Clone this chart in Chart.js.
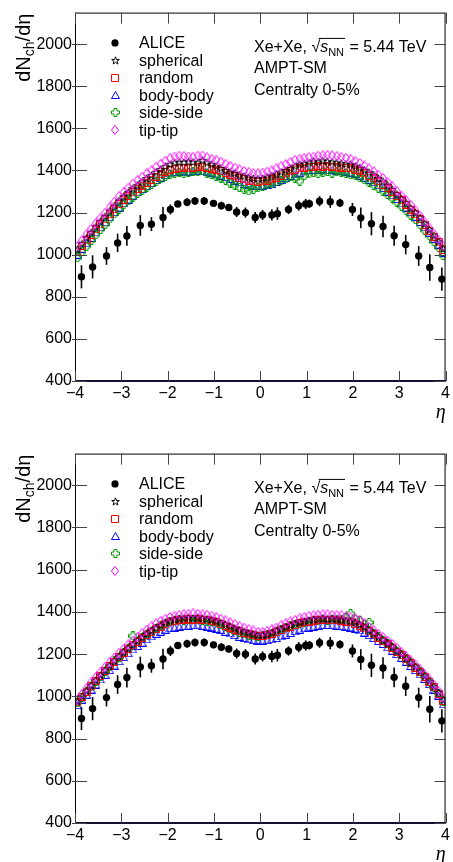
<!DOCTYPE html>
<html>
<head>
<meta charset="utf-8">
<script src="https://cdn.jsdelivr.net/npm/chart.js@4.4.1/dist/chart.umd.min.js"></script>
<style>
body { margin: 0; background: #fff; }
#wrap { position: relative; width: 453px; height: 862px; }
canvas { position: absolute; left: 0; }
</style>
</head>
<body>
<div id="wrap">
  <canvas id="topPanel" width="453" height="441" style="top:0"></canvas>
  <canvas id="bottomPanel" width="453" height="421" style="top:441px"></canvas>
</div>
<script>
// ---- data ----
const etaModel = [
  -3.95,-3.85,-3.75,-3.65,-3.55,-3.45,-3.35,-3.25,-3.15,-3.05,
  -2.95,-2.85,-2.75,-2.65,-2.55,-2.45,-2.35,-2.25,-2.15,-2.05,
  -1.95,-1.85,-1.75,-1.65,-1.55,-1.45,-1.35,-1.25,-1.15,-1.05,
  -0.95,-0.85,-0.75,-0.65,-0.55,-0.45,-0.35,-0.25,-0.15,-0.05,
  0.05,0.15,0.25,0.35,0.45,0.55,0.65,0.75,0.85,0.95,
  1.05,1.15,1.25,1.35,1.45,1.55,1.65,1.75,1.85,1.95,
  2.05,2.15,2.25,2.35,2.45,2.55,2.65,2.75,2.85,2.95,
  3.05,3.15,3.25,3.35,3.45,3.55,3.65,3.75,3.85,3.95
];

// ALICE points (same in both panels)
const etaAlice = [-3.86,-3.62,-3.32,-3.08,-2.88,-2.59,-2.35,-2.10,-1.94,-1.78,-1.58,-1.41,-1.21,-1.01,-0.84,-0.68,-0.51,-0.32,-0.11,0.05,0.25,0.37,0.61,0.83,0.98,1.06,1.28,1.51,1.72,1.99,2.17,2.40,2.65,2.89,3.14,3.42,3.66,3.92];
const aliceVal = [895,942,994,1056,1089,1139,1145,1177,1215,1241,1249,1255,1255,1244,1233,1224,1203,1200,1177,1189,1189,1195,1215,1233,1241,1242,1254,1252,1246,1215,1175,1147,1134,1090,1048,994,939,884];
const aliceErr = [55,55,42,44,47,49,33,49,24,13,19,19,19,16,19,16,24,24,26,24,27,30,22,24,24,20,24,29,20,31,49,55,51,47,46,47,63,55];

// top panel
const topTip = [
  1040,1068,1098,1124,1150,1175,1200,1226,1252,1278,
  1298,1318,1338,1355,1370,1386,1400,1418,1432,1446,
  1458,1466,1470,1468,1466,1465,1470,1471,1462,1456,
  1450,1442,1432,1422,1414,1406,1398,1392,1388,1386,
  1390,1394,1400,1410,1420,1430,1440,1450,1456,1460,
  1463,1466,1470,1472,1474,1472,1468,1464,1460,1454,
  1446,1436,1424,1410,1396,1380,1364,1345,1325,1302,
  1280,1258,1236,1210,1185,1156,1128,1100,1070,1042
];
const topSph = [
  1025,1052,1080,1106,1132,1158,1182,1208,1232,1256,
  1276,1296,1314,1330,1346,1362,1376,1392,1405,1418,
  1428,1436,1440,1438,1442,1440,1436,1448,1436,1428,
  1420,1410,1400,1392,1386,1378,1372,1366,1362,1360,
  1362,1368,1374,1382,1392,1400,1410,1420,1428,1432,
  1436,1444,1440,1446,1442,1440,1436,1434,1430,1428,
  1420,1412,1402,1390,1378,1362,1348,1330,1310,1288,
  1266,1246,1222,1200,1176,1148,1120,1092,1062,1030
];
const topRnd = [
  1015,1042,1068,1094,1120,1144,1168,1192,1216,1240,
  1260,1278,1296,1312,1328,1342,1356,1370,1382,1394,
  1402,1408,1412,1414,1410,1414,1416,1418,1414,1408,
  1402,1396,1388,1380,1372,1364,1358,1352,1348,1346,
  1348,1352,1358,1366,1376,1386,1396,1404,1410,1414,
  1416,1418,1420,1418,1420,1418,1416,1414,1412,1410,
  1404,1396,1386,1374,1362,1348,1332,1316,1298,1278,
  1258,1238,1214,1192,1168,1142,1114,1086,1058,1022
];
const topBody = [
  1000,1028,1054,1080,1106,1130,1154,1178,1202,1224,
  1244,1262,1280,1296,1312,1326,1340,1354,1366,1378,
  1386,1392,1394,1396,1394,1396,1398,1396,1392,1388,
  1382,1376,1368,1360,1352,1344,1336,1330,1326,1326,
  1328,1332,1338,1346,1356,1364,1374,1382,1390,1396,
  1400,1402,1402,1404,1400,1402,1398,1396,1394,1390,
  1384,1376,1366,1356,1344,1330,1316,1300,1282,1264,
  1244,1224,1202,1180,1156,1130,1104,1076,1048,1010
];
const topSide = [
  985,1014,1040,1068,1094,1120,1144,1170,1194,1216,
  1238,1256,1274,1292,1306,1320,1334,1348,1360,1372,
  1382,1388,1392,1386,1392,1396,1394,1398,1388,1382,
  1372,1364,1354,1340,1330,1320,1310,1304,1310,1318,
  1326,1334,1340,1346,1352,1360,1372,1362,1350,1376,
  1384,1390,1386,1392,1396,1388,1394,1392,1386,1380,
  1374,1366,1356,1344,1330,1316,1302,1286,1268,1250,
  1230,1210,1188,1166,1142,1116,1090,1062,1034,996
];

// bottom panel
const botTip = [
  985,1012,1040,1066,1092,1116,1140,1162,1184,1206,
  1226,1246,1264,1282,1300,1316,1332,1346,1358,1368,
  1376,1382,1386,1389,1391,1393,1391,1388,1386,1382,
  1376,1368,1360,1350,1342,1334,1325,1318,1312,1306,
  1305,1310,1318,1326,1336,1346,1355,1362,1370,1376,
  1380,1384,1386,1388,1388,1386,1385,1384,1380,1376,
  1370,1362,1348,1330,1312,1296,1280,1264,1248,1230,
  1210,1190,1170,1150,1128,1104,1080,1054,1026,992
];
const botSph = [
  975,1000,1026,1052,1076,1100,1124,1146,1168,1190,
  1210,1228,1246,1264,1280,1296,1310,1324,1336,1348,
  1356,1362,1366,1370,1372,1370,1372,1368,1366,1362,
  1356,1348,1340,1332,1322,1314,1306,1300,1294,1290,
  1290,1294,1300,1310,1318,1328,1336,1344,1350,1356,
  1360,1364,1366,1368,1366,1368,1364,1362,1360,1356,
  1350,1340,1328,1314,1298,1282,1266,1250,1234,1216,
  1198,1180,1160,1140,1118,1096,1072,1046,1018,984
];
const botRnd = [
  972,998,1022,1048,1072,1096,1120,1142,1164,1186,
  1206,1224,1242,1258,1276,1290,1304,1318,1330,1342,
  1350,1356,1362,1364,1366,1364,1366,1362,1360,1356,
  1350,1342,1334,1326,1316,1308,1300,1294,1290,1286,
  1286,1290,1296,1304,1314,1322,1330,1338,1346,1350,
  1354,1358,1360,1362,1362,1360,1360,1358,1354,1350,
  1344,1334,1322,1308,1294,1278,1262,1246,1230,1212,
  1194,1176,1156,1136,1114,1092,1068,1042,1012,978
];
const botBody = [
  958,984,1008,1032,1056,1080,1102,1124,1146,1166,
  1186,1204,1222,1238,1254,1270,1284,1296,1306,1316,
  1322,1326,1330,1332,1334,1336,1336,1334,1330,1326,
  1320,1314,1306,1298,1290,1282,1276,1270,1266,1264,
  1264,1266,1270,1276,1284,1292,1300,1308,1316,1322,
  1326,1330,1334,1336,1338,1336,1334,1332,1330,1326,
  1320,1312,1302,1290,1276,1262,1248,1232,1216,1200,
  1182,1164,1144,1124,1104,1082,1058,1032,1004,962
];
const botSide = [
  970,996,1022,1046,1072,1094,1118,1142,1168,1186,
  1206,1226,1286,1262,1278,1292,1306,1322,1334,1346,
  1354,1360,1364,1360,1366,1362,1366,1360,1356,1354,
  1348,1340,1332,1322,1312,1304,1296,1290,1286,1284,
  1286,1292,1298,1308,1316,1324,1334,1340,1346,1352,
  1356,1360,1358,1362,1360,1364,1366,1366,1372,1392,
  1366,1358,1340,1350,1298,1282,1266,1250,1232,1214,
  1196,1178,1158,1138,1116,1094,1070,1044,1014,976
];

const legendLabels = ['ALICE', 'spherical', 'random', 'body-body', 'side-side', 'tip-tip'];
const yTicks = [400, 600, 800, 1000, 1200, 1400, 1600, 1800, 2000];
const xTicks = [-4, -3, -2, -1, 0, 1, 2, 3, 4];

const FONT = "'Liberation Sans', Arial, Helvetica, sans-serif";

// ---- marker images (ROOT style open markers) ----
function markerCanvas(w, h, color, pathFn) {
  const c = document.createElement('canvas');
  c.width = w; c.height = h;
  const g = c.getContext('2d');
  g.strokeStyle = color;
  g.lineWidth = 1;
  g.beginPath();
  pathFn(g);
  g.closePath();
  g.stroke();
  return c;
}
const starMk = markerCanvas(9, 9, '#000', g => {
  for (let k = 0; k < 10; k++) {
    const r = k % 2 ? 1.6 : 4;
    const a = -Math.PI / 2 + k * Math.PI / 5;
    const px = 4.5 + r * Math.cos(a), py = 4.8 + r * Math.sin(a);
    if (k) g.lineTo(px, py); else g.moveTo(px, py);
  }
});
const squareMk = markerCanvas(8, 8, '#ff0000', g => { g.rect(0.5, 0.5, 7, 7); });
const triMk = markerCanvas(9, 8, '#0000ff', g => {
  g.moveTo(4.5, 0.5); g.lineTo(8.5, 7.5); g.lineTo(0.5, 7.5);
});
const crossMk = markerCanvas(9, 9, '#009a00', g => {
  g.moveTo(3, 0.5); g.lineTo(6, 0.5); g.lineTo(6, 3); g.lineTo(8.5, 3); g.lineTo(8.5, 6);
  g.lineTo(6, 6); g.lineTo(6, 8.5); g.lineTo(3, 8.5); g.lineTo(3, 6); g.lineTo(0.5, 6);
  g.lineTo(0.5, 3); g.lineTo(3, 3);
});
const diamondMk = markerCanvas(8, 10, '#ff00ff', g => {
  g.moveTo(4, 0.5); g.lineTo(7.5, 5); g.lineTo(4, 9.5); g.lineTo(0.5, 5);
});
const legendMarkers = [null, starMk, squareMk, triMk, crossMk, diamondMk];

function pts(xs, ys) { return xs.map((x, i) => ({ x: x, y: ys[i] })); }

// ---- plugins ----
const errorBars = {
  id: 'errorBars',
  beforeDatasetsDraw(chart) {
    const { ctx, scales: { x, y } } = chart;
    ctx.save();
    ctx.strokeStyle = '#000';
    ctx.lineWidth = 1.6;
    etaAlice.forEach((e, i) => {
      const px = x.getPixelForValue(e);
      ctx.beginPath();
      ctx.moveTo(px, y.getPixelForValue(aliceVal[i] - aliceErr[i]));
      ctx.lineTo(px, y.getPixelForValue(aliceVal[i] + aliceErr[i]));
      ctx.stroke();
    });
    ctx.restore();
  }
};

function drawEnergyText(ctx, x0, yb) {
  let cx = x0;
  ctx.font = '16px ' + FONT;
  ctx.fillText('Xe+Xe, ', cx, yb);
  cx += ctx.measureText('Xe+Xe, ').width;
  ctx.fillText('\u221A', cx, yb);
  cx += ctx.measureText('\u221A').width;
  const barStart = cx - 1.5;
  ctx.font = 'italic 16px ' + FONT;
  ctx.fillText('s', cx, yb);
  cx += ctx.measureText('s').width;
  ctx.font = '11px ' + FONT;
  ctx.fillText('NN', cx, yb + 4);
  cx += ctx.measureText('NN').width + 1;
  ctx.beginPath();
  ctx.lineWidth = 1;
  ctx.moveTo(barStart, yb - 13.5);
  ctx.lineTo(cx, yb - 13.5);
  ctx.stroke();
  ctx.font = '16px ' + FONT;
  ctx.fillText(' = 5.44 TeV', cx, yb);
}

const decorations = {
  id: 'decorations',
  afterDraw(chart) {
    const { ctx, chartArea: a, scales: { x, y } } = chart;
    ctx.save();
    ctx.strokeStyle = '#000';
    ctx.fillStyle = '#000';
    ctx.lineWidth = 1;
    // frame
    ctx.strokeRect(a.left + 0.5, a.top + 0.5, a.right - a.left - 1, a.bottom - a.top);
    ctx.beginPath();
    ctx.lineWidth = 2;
    ctx.strokeStyle = '#111133';
    ctx.moveTo(a.left, a.bottom);
    ctx.lineTo(a.right, a.bottom);
    ctx.stroke();

    // ticks (inside the frame, mirrored)
    ctx.strokeStyle = '#444';
    ctx.lineWidth = 1;
    ctx.beginPath();
    xTicks.forEach(v => {
      const px = Math.round(x.getPixelForValue(v)) + 0.5;
      ctx.moveTo(px, a.bottom); ctx.lineTo(px, a.bottom - 10);
      ctx.moveTo(px, a.top); ctx.lineTo(px, a.top + 11);
    });
    yTicks.forEach(v => {
      const py = Math.round(y.getPixelForValue(v)) + 0.5;
      ctx.moveTo(a.left - 3, py); ctx.lineTo(a.left + 12, py);
      ctx.moveTo(a.right, py); ctx.lineTo(a.right - 11, py);
    });
    ctx.stroke();

    // y title dN_ch/d eta
    ctx.strokeStyle = '#000';
    ctx.save();
    ctx.font = '20px ' + FONT;
    const w1 = ctx.measureText('dN').width;
    const w3 = ctx.measureText('/d\u03B7').width;
    ctx.font = '14px ' + FONT;
    const w2 = ctx.measureText('ch').width;
    const total = w1 + w2 + w3;
    ctx.translate(30, a.top + 1 + total);
    ctx.rotate(-Math.PI / 2);
    ctx.textAlign = 'left';
    ctx.font = '20px ' + FONT;
    ctx.fillText('dN', 0, 0);
    ctx.font = '14px ' + FONT;
    ctx.fillText('ch', w1, 4);
    ctx.font = '20px ' + FONT;
    ctx.fillText('/d\u03B7', w1 + w2, 0);
    ctx.restore();

    // x title
    ctx.font = "italic 20px 'Liberation Serif', 'DejaVu Serif', serif";
    ctx.textAlign = 'right';
    ctx.fillText('\u03B7', a.right, a.bottom + 36.5);

    // legend
    ctx.textAlign = 'left';
    ctx.font = '16px ' + FONT;
    legendLabels.forEach((lab, i) => {
      const ry = a.top + 30.3 + i * 17.45;
      const mk = legendMarkers[i];
      if (mk) {
        ctx.drawImage(mk, Math.round(115 - mk.width / 2), Math.round(ry - mk.height / 2));
      } else {
        ctx.beginPath();
        ctx.arc(115, ry, 3.6, 0, Math.PI * 2);
        ctx.fill();
      }
      ctx.fillText(lab, 139, ry + 5.5);
    });

    // labels on the right
    drawEnergyText(ctx, 254, a.top + 39.3);
    ctx.font = '16px ' + FONT;
    ctx.fillText('AMPT-SM', 254, a.top + 60);
    ctx.fillText('Centralty 0-5%', 254, a.top + 82.7);
    ctx.restore();
  }
};

function makePanel(id, tip, sph, rnd, body, side, xAxisHeight) {
  return new Chart(document.getElementById(id), {
    type: 'scatter',
    data: {
      datasets: [
        { label: 'ALICE', data: pts(etaAlice, aliceVal), pointStyle: 'circle', pointRadius: 3.7,
          backgroundColor: '#000', borderColor: '#000', borderWidth: 0, order: 0 },
        { label: 'tip-tip', data: pts(etaModel, tip), pointStyle: diamondMk, order: 1 },
        { label: 'spherical', data: pts(etaModel, sph), pointStyle: starMk, order: 2 },
        { label: 'random', data: pts(etaModel, rnd), pointStyle: squareMk, order: 3 },
        { label: 'side-side', data: pts(etaModel, side), pointStyle: crossMk, order: 4 },
        { label: 'body-body', data: pts(etaModel, body), pointStyle: triMk, order: 5 }
      ]
    },
    options: {
      responsive: false,
      animation: false,
      events: [],
      layout: { padding: { top: 9, right: 4, bottom: 0, left: 0 } },
      plugins: { legend: { display: false }, tooltip: { enabled: false } },
      scales: {
        x: {
          type: 'linear', min: -4, max: 4,
          grid: { display: false, drawTicks: false },
          border: { display: false },
          ticks: {
            stepSize: 1, padding: 3, color: '#000', autoSkip: false, maxRotation: 0,
            font: { family: FONT, size: 16 },
            callback: v => (v < 0 ? '\u2212' + (-v) : '' + v)
          },
          afterFit: s => { s.height = xAxisHeight; }
        },
        y: {
          type: 'linear', min: 400, max: 2150,
          grid: { display: false, drawTicks: false },
          border: { display: false },
          ticks: {
            stepSize: 200, includeBounds: false, padding: 3, color: '#000', autoSkip: false,
            font: { family: FONT, size: 16 },
            callback: v => String(v)
          },
          afterFit: s => { s.width = 75; }
        }
      }
    },
    plugins: [errorBars, decorations]
  });
}

makePanel('topPanel', topTip, topSph, topRnd, topBody, topSide, 60);
makePanel('bottomPanel', botTip, botSph, botRnd, botBody, botSide, 39);
</script>
</body>
</html>
